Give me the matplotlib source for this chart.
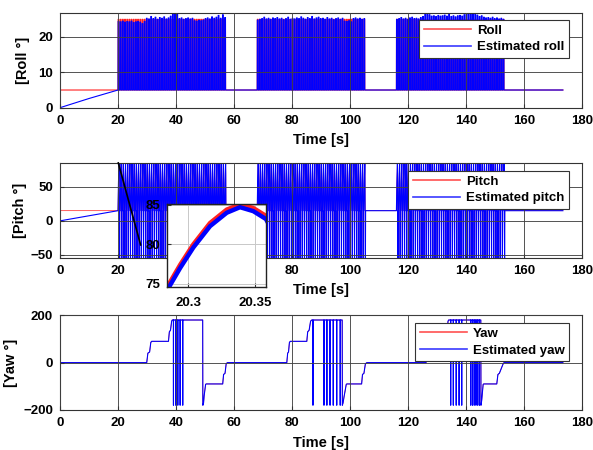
import numpy as np
import matplotlib
matplotlib.use("Agg")
import matplotlib.pyplot as plt

# ---------------- data ----------------
t_end = 173.4
burst_start = [20.0, 68.0, 116.0]
spike_period = 0.75

# estimated roll / pitch during the initial ramp (0-20 s)
ramp_t = [0.0, 5.0, 10.0, 15.0, 20.0]
roll_ramp = [0.0, 1.3, 2.6, 3.8, 5.0]
pitch_ramp = [0.0, 3.8, 7.5, 11.2, 15.0]

roll_base = 5.0
roll_ref_peak = 25.0
roll_est_peaks = [
    [24.4, 24.3, 24.5, 24.2, 24.4, 24.3, 24.5, 24.1, 24.3, 24.4, 24.2, 23.8, 24.4, 25.3, 25.1,
     25.8, 25.2, 25.6, 25.0, 25.5, 25.3, 25.7, 25.1, 25.4, 25.9, 26.8, 26.7, 26.8, 25.2, 25.4,
     25.0, 25.2, 25.4, 25.1, 25.3, 24.6, 24.5, 24.7, 24.6, 24.8, 25.2, 25.4, 25.1, 25.7, 25.3,
     25.6, 26.1, 25.3, 26.3, 25.5],
    [24.8, 25.0, 25.2, 25.6, 25.1, 25.3, 25.0, 25.4, 25.2, 25.5, 25.1, 25.3, 24.9, 25.2, 25.6,
     25.0, 25.3, 25.1, 25.4, 25.2, 25.7, 25.3, 25.0, 25.5, 25.2, 25.8, 25.1, 25.4, 25.6, 25.2,
     25.3, 25.0, 25.5, 25.1, 25.3, 24.9, 25.2, 25.4, 25.0, 25.3, 24.5, 24.4, 24.6, 24.3, 25.2,
     25.4, 25.1, 25.3, 25.0, 25.2],
    [25.0, 25.2, 25.5, 25.1, 25.3, 25.0, 25.4, 25.6, 25.2, 25.3, 25.1, 25.5, 25.8, 26.4, 26.5,
     26.3, 25.9, 26.0, 25.8, 26.1, 25.9, 26.0, 26.2, 25.9, 26.4, 25.8, 26.0, 25.7, 26.0, 26.1,
     25.9, 26.3, 26.5, 26.6, 26.4, 26.7, 26.5, 26.2, 25.8, 26.0, 25.6, 25.4, 25.5, 25.3, 25.6,
     25.2, 25.4, 25.1, 25.3, 25.0],
]
roll_spike_dt = [0.0, 0.04, 0.30, 0.34]

pitch_base = 15.0
# shape of one pitch excursion (time offsets and values)
pitch_spike_dt = [0.0, 0.15, 0.2852, 0.2938, 0.3037, 0.3162, 0.3287, 0.3386, 0.3485, 0.358,
                  0.40, 0.47, 0.55, 0.62]
pitch_spike_est = [15.0, 55.0, 74.5, 77.0, 79.6, 82.3, 84.0, 84.7, 84.2, 83.2, 70.0, 0.0, -56.0, 15.0]
pitch_spike_ref = [15.0, 55.3, 74.9, 77.4, 80.0, 82.7, 84.4, 85.05, 84.6, 83.6, 70.4, 0.0, -56.0, 15.0]

# yaw step profile (same for reference and estimate)
yaw_t = [0.0, 29.9, 30.3, 30.9, 31.3, 31.6, 37.4, 37.7, 38.1, 38.5, 38.7,
         49.2, 49.25, 49.5, 49.7, 50.2, 50.4, 56.1, 56.4, 56.9, 57.3, 57.7,
         78.2, 78.5, 78.8, 79.1, 79.4, 85.1, 85.4, 85.9, 86.4, 86.8,
         97.3, 97.35, 97.6, 98.0, 98.7, 98.9, 104.0, 104.3, 104.8, 105.3, 105.8,
         126.2, 126.5, 126.8, 127.1, 127.4, 133.1, 133.4, 133.8, 134.0,
         145.1, 145.15, 145.4, 145.9, 146.1, 150.6, 151.0, 151.5, 152.8, 153.1, 173.4]
yaw_v = [0, 0, 40, 45, 85, 90, 90, 130, 137, 175, 180,
         180, -180, -170, -140, -92, -90, -90, -50, -45, -5, 0,
         0, 40, 45, 85, 90, 90, 130, 137, 175, 180,
         180, -180, -170, -140, -92, -90, -90, -50, -45, -5, 0,
         0, 40, 45, 85, 90, 90, 130, 175, 180,
         180, -180, -160, -92, -90, -90, -50, -45, -5, 0, 0]
# +180/-180 wrap-arounds seen in the estimated yaw
yaw_flip_t = [39.1, 39.9, 40.6, 41.4, 42.3,
              87.2, 91.0, 92.0, 93.1, 94.2, 95.4, 96.6,
              134.7, 135.6, 136.6, 137.6, 138.5, 141.6, 142.2, 142.8, 143.4, 144.0, 144.6]

# inset zoom window and connector line
inset_xlim = (20.284, 20.358)
inset_ylim = (74.6, 85.1)
connector_t = [20.1, 27.8]
connector_v = [85.4, -35.5]

# ---------------- build series ----------------
def spike_series(base, dt, peaks_list, ramp_vals, ref=False, ref_peak=None, template=None):
    t = list(ramp_t)
    v = list(ramp_vals)
    for b, peaks in zip(burst_start, peaks_list):
        for k, p in enumerate(peaks):
            t0 = b + k * spike_period
            if template is None:
                pk = ref_peak if ref else p
                vals = [base, pk, pk, base]
            else:
                vals = template
            for d, val in zip(dt, vals):
                t.append(t0 + d)
                v.append(val)
        t.append(b + len(peaks) * spike_period + 0.1)
        v.append(base)
    t.append(t_end)
    v.append(base)
    return np.array(t), np.array(v)

roll_t_est, roll_est = spike_series(roll_base, roll_spike_dt, roll_est_peaks, roll_ramp)
roll_t_ref, roll_ref = spike_series(roll_base, roll_spike_dt, roll_est_peaks,
                                    [roll_base] * len(ramp_t), ref=True, ref_peak=roll_ref_peak)
pitch_t_est, pitch_est = spike_series(pitch_base, pitch_spike_dt, roll_est_peaks, pitch_ramp,
                                      template=pitch_spike_est)
pitch_t_ref, pitch_ref = spike_series(pitch_base, pitch_spike_dt, roll_est_peaks,
                                      [pitch_base] * len(ramp_t), template=pitch_spike_ref)

# yaw estimate with wrap-arounds
yt = list(yaw_t)
yv = list(yaw_v)
for ft in yaw_flip_t:
    yt += [ft, ft + 0.02, ft + 0.04]
    yv += [180, -180, 180]
order = np.argsort(np.array(yt), kind="stable")
yaw_t_est = np.array(yt)[order]
yaw_est = np.array(yv)[order]

# ---------------- plotting ----------------
plt.rcParams['font.family'] = ['Liberation Sans', 'DejaVu Sans']
plt.rcParams['font.weight'] = 'bold'
plt.rcParams['axes.labelweight'] = 'bold'

fig = plt.figure(figsize=(5.93, 4.5), dpi=100)
L, W, H = 0.1012, 0.8803, 0.2105
ax1 = fig.add_axes([L, 0.7607, W, H])
ax2 = fig.add_axes([L, 0.4274, W, H])
ax3 = fig.add_axes([L, 0.0889, W, H])

red = '#ff2020'
blue = '#0000ff'
grid_c = '#404040'

def style(ax, ylabel, ylab_x):
    ax.set_xlim(0, 180)
    ax.set_xticks(range(0, 181, 20))
    ax.grid(True, color=grid_c, linewidth=0.7, alpha=0.9)
    ax.set_axisbelow(False)
    ax.tick_params(direction='in', length=3, labelsize=9.5, pad=5, color='#333333')
    for lab in ax.get_xticklabels() + ax.get_yticklabels():
        lab.set_fontweight('bold')
    for s in ax.spines.values():
        s.set_color('#333333')
        s.set_linewidth(0.8)
    ax.set_xlabel('Time [s]', fontsize=10.5, fontweight='bold')
    ax.xaxis.set_label_coords(0.5, -0.27)
    ax.set_ylabel(ylabel, fontsize=10.5, fontweight='bold')
    ax.yaxis.set_label_coords(ylab_x, 0.5)

# Roll
ax1.plot(roll_t_ref, roll_ref, color=red, lw=0.8, label='Roll')
ax1.plot(roll_t_est, roll_est, color=blue, lw=0.8, label='Estimated roll')
ax1.set_ylim(0, 26.8)
ax1.set_yticks([0, 10, 20])
style(ax1, '[Roll °]', -0.058)

# Pitch
ax2.plot(pitch_t_ref, pitch_ref, color=red, lw=0.5, label='Pitch')
ax2.plot(pitch_t_est, pitch_est, color=blue, lw=0.8, label='Estimated pitch')
ax2.set_ylim(-54.3, 85.4)
ax2.set_yticks([-50, 0, 50])
style(ax2, '[Pitch °]', -0.064)

# Yaw
ax3.plot(yaw_t, yaw_v, color=red, lw=0.5, label='Yaw')
ax3.plot(yaw_t_est, yaw_est, color=blue, lw=0.8, label='Estimated yaw')
ax3.set_ylim(-200, 200)
ax3.set_yticks([-200, 0, 200])
style(ax3, '[Yaw °]', -0.08)

legkw = dict(loc='upper right', fontsize=9.5, frameon=True, fancybox=False, framealpha=1,
             edgecolor='#333333', handlelength=3.6, handletextpad=0.45, borderaxespad=0,
             labelspacing=0.35, borderpad=0.35)
for ax, top in ((ax1, 0.929), (ax2, 0.918), (ax3, 0.919)):
    lg = ax.legend(bbox_to_anchor=(0.9757, top), **legkw)
    lg.get_frame().set_linewidth(0.8)
    for tx in lg.get_texts():
        tx.set_fontweight('bold')
    hl = lg.get_lines()
    hl[0].set_color('#ff5050')
    hl[1].set_color('#3a3aff')
    for h in hl:
        h.set_linewidth(1.2)

# connector line
ax2.plot(connector_t, connector_v, color='black', lw=1.2, clip_on=False, zorder=5)

# Inset
axi = fig.add_axes([0.2816, 0.3622, 0.1669, 0.1844])
axi.set_facecolor('white')
axi.plot(pitch_t_ref, pitch_ref, color=red, lw=3.2)
axi.plot(pitch_t_est, pitch_est, color=blue, lw=3.2)
axi.set_xlim(*inset_xlim)
axi.set_ylim(*inset_ylim)
axi.set_xticks([20.3, 20.35])
axi.set_xticklabels(['20.3', '20.35'])
axi.set_yticks([75, 80, 85])
axi.grid(True, color='#c8c8c8', linewidth=0.7)
axi.tick_params(direction='in', length=3, labelsize=9.5, pad=7, color='#333333')
axi.tick_params(axis='y', pad=5)
for lab in axi.get_xticklabels() + axi.get_yticklabels():
    lab.set_fontweight('bold')
for s in axi.spines.values():
    s.set_color('#222222')
    s.set_linewidth(1.0)

fig.savefig('out.png', dpi=100)
